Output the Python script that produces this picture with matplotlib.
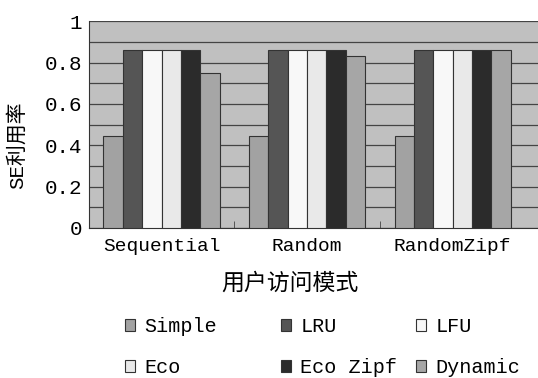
import numpy as np
import matplotlib.pyplot as plt

# data
patterns = ['Sequential', 'Random', 'RandomZipf']
methods = ['Simple', 'LRU', 'LFU', 'Eco', 'Eco Zipf', 'Dynamic']
simple = [0.445, 0.445, 0.445]
lru = [0.86, 0.86, 0.86]
lfu = [0.86, 0.86, 0.86]
eco = [0.86, 0.86, 0.86]
eco_zipf = [0.86, 0.86, 0.86]
dynamic = [0.747, 0.831, 0.86]
yticks = [0, 0.2, 0.4, 0.6, 0.8, 1]
ytick_labels = ['0', '0.2', '0.4', '0.6', '0.8', '1']

series = [simple, lru, lfu, eco, eco_zipf, dynamic]
colors = ['#a2a2a2', '#555555', '#f8f8f8', '#e9e9e9', '#2b2b2b', '#a6a6a6']

fonts = ['Liberation Mono', 'Noto Sans CJK SC']
plt.rcParams['font.family'] = fonts

fig = plt.figure(figsize=(5.38, 3.78), dpi=100)
ax = fig.add_axes([0.165, 0.397, 0.835, 0.547])
ax.set_facecolor('#c0c0c0')

x = np.arange(len(patterns))
w = 0.133
bars = []
for i, (vals, c) in enumerate(zip(series, colors)):
    b = ax.bar(x + (i - 2.5) * w, vals, w, color=c, edgecolor='#333333',
               linewidth=0.8, label=methods[i], zorder=3)
    bars.append(b)

ax.set_xlim(-0.5, 2.586)
ax.set_ylim(0, 1)
ax.set_yticks(yticks)
ax.set_yticklabels(ytick_labels, fontsize=15)
ax.set_yticks(np.arange(0, 1.01, 0.1), minor=True)
ax.grid(True, which='both', axis='y', color='#444444', linewidth=0.9, zorder=1)
ax.tick_params(axis='y', which='both', length=0, pad=5)

ax.set_xticks(x)
ax.set_xticklabels(patterns, fontsize=14)
ax.set_xticks([0.5, 1.5], minor=True)
ax.tick_params(axis='x', which='major', length=0, pad=7)
ax.tick_params(axis='x', which='minor', length=5, direction='in', color='#444444')

for s in ['top', 'right']:
    ax.spines[s].set_visible(False)
ax.spines['left'].set_color('#333333')
ax.spines['bottom'].set_color('#333333')

ax.set_ylabel('SE利用率', fontsize=15)
ax.yaxis.set_label_coords(-0.137, 0.40)
ax.set_xlabel('用户访问模式', fontsize=16.5, va='top')
ax.xaxis.set_label_coords(0.448, -0.21)

# legend laid out as three columns, as in the original
col_x = [125, 281, 416]
for k, col in enumerate([[0, 3], [1, 4], [2, 5]]):
    fig.legend([bars[i] for i in col], [methods[i] for i in col],
               loc='center left', bbox_to_anchor=(col_x[k] / 538, 1 - 347 / 378),
               frameon=False, fontsize=14.5, handlelength=0.5, handleheight=0.5,
               handletextpad=0.45, labelspacing=1.1, borderpad=0, borderaxespad=0)

fig.savefig('out.png', dpi=100)
